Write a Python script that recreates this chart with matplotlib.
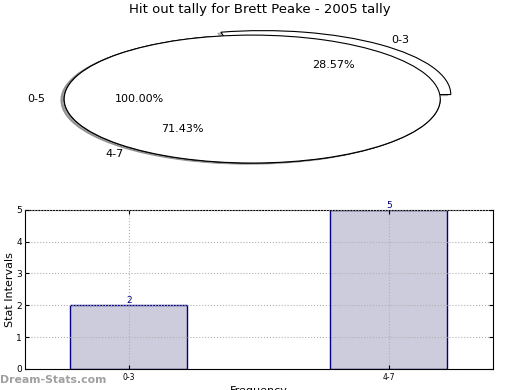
import matplotlib
matplotlib.use('Agg')
import matplotlib.pyplot as plt

# data
TITLE      = 'Hit out tally for Brett Peake - 2005 tally'
CATEGORIES = ['0-3', '4-7']
COUNTS     = [2, 5]
TOTAL_LBL  = ['0-5']
TOTAL_VAL  = [1]
EXPLODE    = [0.09, 0]

BAR_FILL = '#ccccdd'
BAR_EDGE = '#000080'

fig = plt.figure(figsize=(5.2, 3.9), dpi=100)
fig.text(0.5, 0.975, TITLE, ha='center', va='center', fontsize=9.5)

# ---- pie (old-style squashed ellipse) ----
axp = fig.add_axes([0.033, 0.541, 0.904, 0.410])
pct = lambda p: f'{p:.2f}%'
shadow = dict(ox=-0.012, oy=-0.012, shade=0.5)
wp = dict(facecolor='white', edgecolor='black', linewidth=0.8)
axp.pie(COUNTS, labels=CATEGORIES, explode=EXPLODE, autopct=pct,
        shadow=shadow, startangle=0, wedgeprops=wp,
        textprops=dict(fontsize=8))
axp.pie(TOTAL_VAL, labels=TOTAL_LBL, autopct=pct, shadow=shadow,
        startangle=0, wedgeprops=wp, textprops=dict(fontsize=8))
axp.set_aspect('auto')
axp.set_xlim(-1.25, 1.25)
axp.set_ylim(-1.25, 1.25)

# ---- bar chart ----
ax = fig.add_axes([0.048, 0.054, 0.900, 0.408])
x = range(len(CATEGORIES))
ax.bar(x, COUNTS, width=0.45, color=BAR_FILL, edgecolor=BAR_EDGE,
       linewidth=1, zorder=1)
for xi, v in zip(x, COUNTS):
    ax.text(xi, v, str(v), ha='center', va='bottom', fontsize=6.5,
            color=BAR_EDGE)
ax.set_xlim(-0.4, 1.4)
ax.set_ylim(0, 5)
ax.set_xticks(list(x))
ax.set_xticklabels(CATEGORIES, fontsize=5.5)
ax.set_yticks(range(0, 6))
ax.tick_params(axis='y', labelsize=6.5, direction='in', right=True,
               length=3, pad=2)
ax.tick_params(axis='x', direction='in', top=True, length=3, pad=3)
ax.grid(True, color='#b0b0b0', linestyle=':', linewidth=0.8, zorder=2)
ax.set_axisbelow(False)
ax.set_ylabel('Stat Intervals', fontsize=8, labelpad=1)
ax.set_xlabel('Frequency', fontsize=8, labelpad=3)

fig.text(0.0, 0.025, 'Dream-Stats.com', fontsize=7.8, color='#a0a0a0',
         fontweight='bold', ha='left', va='center')

fig.savefig('out.png', dpi=100)
